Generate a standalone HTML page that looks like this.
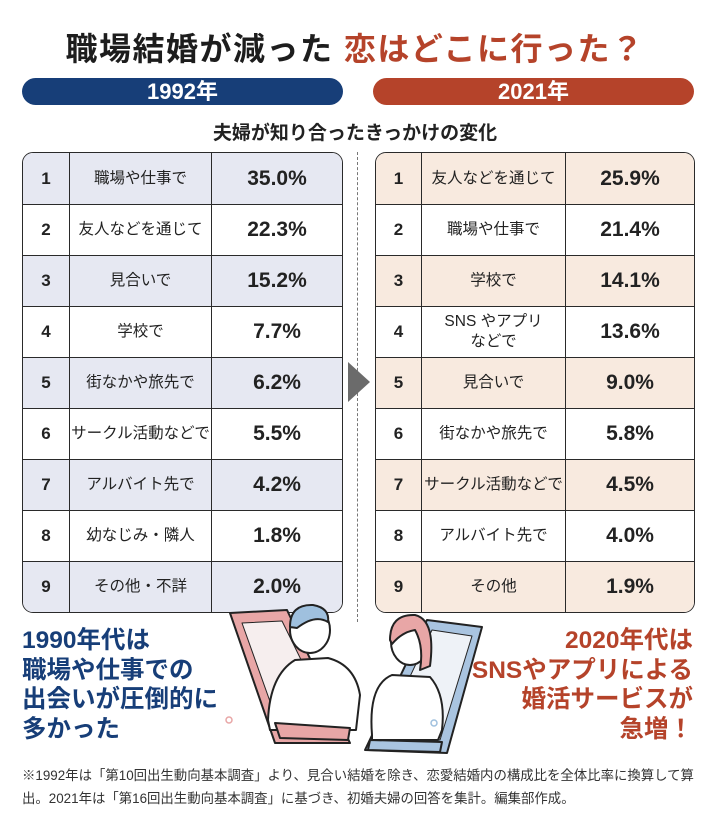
<!DOCTYPE html>
<html><head><meta charset="utf-8">
<style>
*{margin:0;padding:0;box-sizing:border-box}
body{width:710px;height:813px;background:#fff;position:relative;overflow:hidden;font-family:"Liberation Sans","Noto Sans CJK JP",sans-serif;color:#222}
.abs{position:absolute}
.title{left:0;width:710px;top:24px;text-align:center;font-size:32px;font-weight:bold;letter-spacing:1.5px;color:#1d1d1d}
.title span{color:#b5432a}
.pill{top:78px;height:27px;border-radius:14px;color:#fff;font-size:22px;font-weight:bold;text-align:center;line-height:27px}
.sub{top:118px;left:0;width:710px;text-align:center;font-size:19px;font-weight:bold}
.tbl{top:152px;height:461px;border:1.6px solid #2a2a2a;border-radius:11px;overflow:hidden;background:#fff}
.row{position:absolute;left:0;right:0;border-top:1.4px solid #2a2a2a}
.row:first-child{border-top:none}
.cell{position:absolute;top:0;bottom:0;display:flex;align-items:center;justify-content:center;text-align:center}
.num{font-size:17px;font-weight:bold}
.lab{font-size:15.5px;line-height:20px;border-left:1.4px solid #2a2a2a;border-right:1.4px solid #2a2a2a;white-space:nowrap}
.val{font-size:21px;font-weight:bold}
.msgL{left:22px;top:626px;font-size:24.5px;font-weight:bold;line-height:29.5px;color:#173e78}
.msgR{right:17px;top:626px;font-size:24.5px;font-weight:bold;line-height:29.5px;color:#b5432a;text-align:right}
.note{left:22px;top:764px;font-size:13.4px;line-height:23px;color:#333;white-space:nowrap}
</style></head><body>
<div class="abs title">職場結婚が減った <span>恋はどこに行った？</span></div>
<div class="abs pill" style="left:22px;width:321px;background:#173e78">1992年</div>
<div class="abs pill" style="left:373px;width:321px;background:#b5432a">2021年</div>
<div class="abs sub">夫婦が知り合ったきっかけの変化</div>
<div class="abs" style="left:357px;top:152px;height:470px;border-left:1.3px dashed #777"></div>
<svg class="abs" style="left:346px;top:362px" width="26" height="40"><polygon points="2,0 24,20 2,40" fill="#6b6b6b"/></svg>
<div class="abs tbl" id="t1" style="left:22px;width:321px"></div>
<div class="abs tbl" id="t2" style="left:375px;width:320px"></div>

<svg class="abs" style="left:220px;top:590px" width="280" height="180">
<g stroke="#222" stroke-width="2" stroke-linejoin="round">
<polygon points="10,23 67,20 130,153 55,153" fill="#e8a6a6"/>
<polygon points="22,33 62,31 118,145 62,145" fill="#f6eeee" stroke-width="1"/>
<polygon points="207,30 262,37 227,163 145,160" fill="#a9c4e0"/>
<polygon points="212,40 252,46 220,150 160,150" fill="#eef2f7" stroke-width="1"/>
<path d="M48,130 Q50,85 75,70 L108,68 Q135,75 140,105 L136,140 L50,140 Z" fill="#fff"/>
<ellipse cx="90" cy="40" rx="20" ry="23" fill="#fff"/>
<path d="M70,37 Q70,14 93,15 Q110,18 108,32 Q95,24 77,38 Z" fill="#9fc0de"/>
<path d="M55,133 L130,138 L128,150 L60,148 Z" fill="#e8a6a6"/>
<path d="M152,145 Q148,95 172,85 L210,87 Q226,105 222,140 L218,150 L152,150 Z" fill="#fff"/>
<ellipse cx="190" cy="52" rx="19" ry="23" fill="#fff"/>
<path d="M170,50 Q170,24 195,25 Q216,30 210,76 L200,80 Q204,56 195,40 Q182,42 172,54 Z" fill="#e8a6a6"/>
<path d="M150,150 L222,152 L220,162 L148,160 Z" fill="#a9c4e0"/>
</g>
<g fill="none" stroke="#e8a6a6" stroke-width="1.5"><circle cx="9" cy="130" r="3"/><circle cx="214" cy="133" r="3" stroke="#9fc0de"/></g>
</svg>

<div class="abs msgL">1990年代は<br>職場や仕事での<br>出会いが圧倒的に<br>多かった</div>
<div class="abs msgR">2020年代は<br>SNSやアプリによる<br>婚活サービスが<br>急増！</div>
<div class="abs note">※1992年は「第10回出生動向基本調査」より、見合い結婚を除き、恋愛結婚内の構成比を全体比率に換算して算<br>出。2021年は「第16回出生動向基本調査」に基づき、初婚夫婦の回答を集計。編集部作成。</div>

<script>
const ranks = [1,2,3,4,5,6,7,8,9];
const labels1992 = ["職場や仕事で","友人などを通じて","見合いで","学校で","街なかや旅先で","サークル活動などで","アルバイト先で","幼なじみ・隣人","その他・不詳"];
const values1992 = [35.0,22.3,15.2,7.7,6.2,5.5,4.2,1.8,2.0];
const labels2021 = ["友人などを通じて","職場や仕事で","学校で","SNS やアプリ<br>などで","見合いで","街なかや旅先で","サークル活動などで","アルバイト先で","その他"];
const values2021 = [25.9,21.4,14.1,13.6,9.0,5.8,4.5,4.0,1.9];

function build(id, labels, values, shade, c1, c2){
  const t = document.getElementById(id);
  const h = 459/ranks.length;
  ranks.forEach((r,i)=>{
    const row = document.createElement('div');
    
    
    row.className='row';
    row.style.top=(i*h)+'px';row.style.height=h+'px';
    if(i%2===0) row.style.background=shade;
    row.innerHTML='<div class="cell num" style="left:0;width:'+c1+'px">'+r+'</div>'+
      '<div class="cell lab" style="left:'+c1+'px;width:'+(c2-c1)+'px">'+labels[i]+'</div>'+
      '<div class="cell val" style="left:'+c2+'px;right:0">'+values[i].toFixed(1)+'%</div>';
    t.appendChild(row);
  });
}
build('t1', labels1992, values1992, '#e6e8f2', 46, 189);
build('t2', labels2021, values2021, '#f8eadf', 45, 190);
</script>
</body></html>
